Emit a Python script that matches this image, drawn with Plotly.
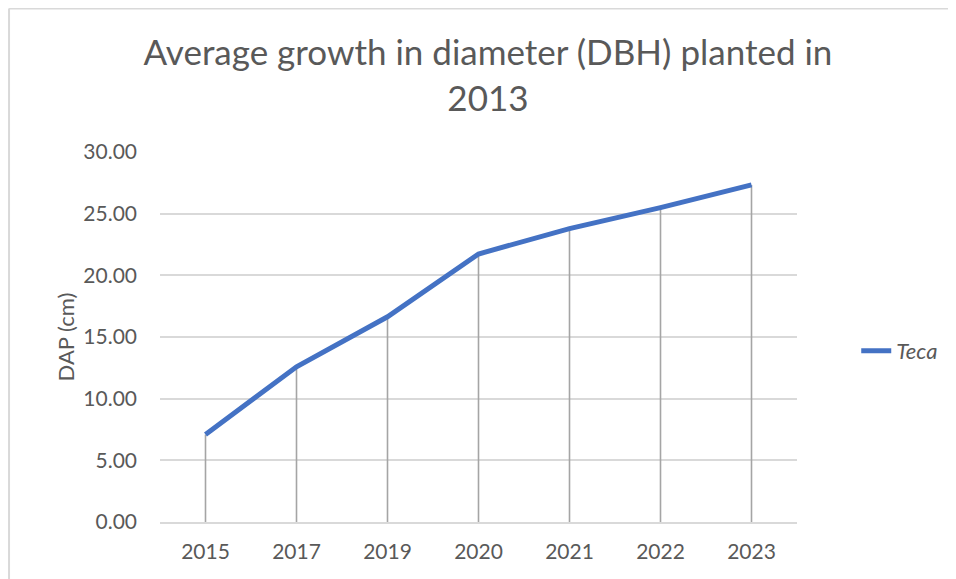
import plotly.graph_objects as go

# data
years = ['2015', '2017', '2019', '2020', '2021', '2022', '2023']
dap_teca = [7.09, 12.58, 16.64, 21.73, 23.79, 25.49, 27.33]
y_ticks = [0, 5, 10, 15, 20, 25, 30]

text_grey = '#595959'
grid_grey = '#d9d9d9'
drop_grey = '#a5a5a5'
font_name = 'Lato'

fig = go.Figure()

# drop lines (Excel style) drawn as one-sided error bars down to zero
fig.add_trace(go.Scatter(
    x=years, y=dap_teca, mode='markers',
    marker=dict(size=2, opacity=0),
    error_y=dict(type='data', symmetric=False, array=[0] * len(dap_teca),
                 arrayminus=dap_teca, width=0, thickness=1.6, color=drop_grey),
    showlegend=False, hoverinfo='skip',
))

fig.add_trace(go.Scatter(
    x=years, y=dap_teca, mode='lines', name='Teca',
    line=dict(color='#4472c4', width=5),
))

# page body has an 8px margin, so the figure is a bit smaller than the window
fig.update_layout(
    width=948, height=571,
    margin=dict(l=152, r=159, t=144, b=57),
    paper_bgcolor='white', plot_bgcolor='white',
    font=dict(family=font_name, color=text_grey),
    title=dict(text='Average growth in diameter (DBH) planted in<br>2013',
               x=0.5063, xanchor='center', xref='container',
               y=0.9, yanchor='top', yref='container',
               font=dict(size=35, color=text_grey, family=font_name)),
    legend=dict(x=1.093, xanchor='left', y=0.462, yanchor='middle',
                font=dict(size=22, style='italic', color=text_grey),
                bgcolor='rgba(0,0,0,0)'),
)

fig.update_xaxes(type='category', range=[-0.5, 6.5], showgrid=False,
                 showline=True, linecolor=grid_grey, linewidth=1.5,
                 ticks='', ticklabelstandoff=10,
                 tickfont=dict(size=21, color=text_grey))
fig.update_yaxes(range=[0, 30], tickvals=y_ticks, tickformat='.2f',
                 showgrid=True, gridcolor=grid_grey, gridwidth=1.5,
                 zeroline=False, showline=False, ticks='',
                 ticklabelstandoff=22,
                 tickfont=dict(size=21, color=text_grey),
                 title=dict(text='DAP (cm)', standoff=2,
                            font=dict(size=22, color=text_grey)))

# chart area border (top and left visible in the reference crop)
fig.add_shape(type='line', xref='paper', yref='paper',
              x0=-0.237, x1=2, y0=1.3878, y1=1.3878,
              line=dict(color=grid_grey, width=2))
fig.add_shape(type='line', xref='paper', yref='paper',
              x0=-0.237, x1=-0.237, y0=-1, y1=1.3878,
              line=dict(color=grid_grey, width=2))

fig.write_html('out.html')
